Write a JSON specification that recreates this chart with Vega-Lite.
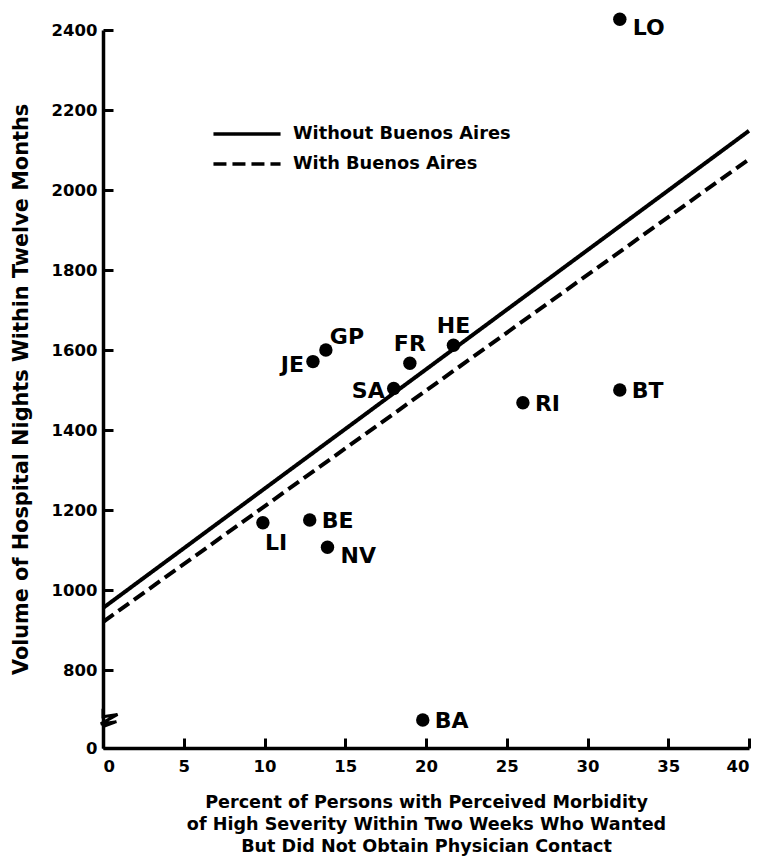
{
  "$schema": "https://vega.github.io/schema/vega-lite/v6.json",
  "width": 646,
  "height": 718,
  "autosize": {"type": "none"},
  "padding": {"left": 103, "top": 30, "right": 11, "bottom": 108},
  "background": "white",
  "config": {
    "view": {"stroke": null},
    "font": "DejaVu Sans",
    "axis": {
      "domainColor": "black",
      "domainWidth": 3.5,
      "tickColor": "black",
      "tickWidth": 3,
      "tickSize": -10,
      "grid": false,
      "labelFont": "DejaVu Sans",
      "labelFontWeight": "bold",
      "labelFontSize": 16.5,
      "labelColor": "black",
      "titleFont": "DejaVu Sans",
      "titleFontWeight": "bold",
      "titleColor": "black"
    },
    "legend": {
      "labelFont": "DejaVu Sans",
      "labelFontWeight": "bold",
      "labelFontSize": 17.8,
      "labelColor": "black",
      "labelLimit": 0
    }
  },
  "datasets": {
    "points": [
      {"code": "LO", "pct": 32, "nights": 2427},
      {"code": "JE", "pct": 13, "nights": 1571},
      {"code": "GP", "pct": 13.8, "nights": 1600},
      {"code": "FR", "pct": 19, "nights": 1567},
      {"code": "SA", "pct": 18, "nights": 1504},
      {"code": "HE", "pct": 21.7, "nights": 1612},
      {"code": "RI", "pct": 26, "nights": 1468},
      {"code": "BT", "pct": 32, "nights": 1500},
      {"code": "LI", "pct": 9.9, "nights": 1168},
      {"code": "BE", "pct": 12.8, "nights": 1175},
      {"code": "NV", "pct": 13.9, "nights": 1107},
      {"code": "BA", "pct": 19.8, "nights": 675}
    ],
    "lines": [
      {"series": "Without Buenos Aires", "pct": 0, "nights": 955},
      {"series": "Without Buenos Aires", "pct": 40, "nights": 2148},
      {"series": "With Buenos Aires", "pct": 0, "nights": 920},
      {"series": "With Buenos Aires", "pct": 40, "nights": 2077}
    ],
    "brk": [{"pct": 0, "nights": 675}]
  },
  "layer": [
    {
      "data": {"name": "lines"},
      "mark": {"type": "line", "color": "black", "strokeWidth": 4, "clip": false},
      "encoding": {
        "x": {
          "field": "pct", "type": "quantitative",
          "scale": {"domain": [0, 40], "nice": false, "zero": false},
          "axis": {
            "values": [0, 5, 10, 15, 20, 25, 30, 35, 40],
            "labelPadding": 20,
            "title": ["Percent of Persons with Perceived Morbidity", "of High Severity Within Two Weeks Who Wanted", "But Did Not Obtain Physician Contact"],
            "titleFontSize": 17.6,
            "titleLineHeight": 22,
            "titlePadding": 19
          }
        },
        "y": {
          "field": "nights", "type": "quantitative",
          "scale": {"domain": [605, 2400], "nice": false, "zero": false},
          "axis": {
            "values": [605, 800, 1000, 1200, 1400, 1600, 1800, 2000, 2200, 2400],
            "labelExpr": "datum.value < 700 ? '0' : datum.label",
            "format": "d",
            "labelPadding": 16,
            "title": "Volume of Hospital Nights Within Twelve Months",
            "titleFontSize": 20.8,
            "titlePadding": 20
          }
        },
        "detail": {"field": "series"},
        "strokeDash": {
          "field": "series", "type": "nominal",
          "scale": {"domain": ["Without Buenos Aires", "With Buenos Aires"], "range": [[1, 0], [13, 6]]},
          "legend": {
            "title": null,
            "orient": "none",
            "legendX": 131,
            "legendY": 91,
            "symbolType": "M-3,0H3",
            "symbolSize": 500,
            "symbolStrokeWidth": 3.5,
            "symbolStrokeColor": "black",
            "labelOffset": 33,
            "rowPadding": 8
          }
        }
      }
    },
    {
      "data": {"name": "points"},
      "mark": {"type": "circle", "color": "black", "opacity": 1, "size": 180, "clip": false},
      "encoding": {
        "x": {"field": "pct", "type": "quantitative"},
        "y": {"field": "nights", "type": "quantitative"}
      }
    },
    {
      "data": {"name": "points"},
      "transform": [{"filter": {"field": "code", "oneOf": ["RI", "BT", "BA", "BE"]}}],
      "mark": {"type": "text", "align": "left", "baseline": "middle", "dx": 12, "dy": 1, "fontSize": 22, "fontWeight": "bold", "font": "DejaVu Sans", "color": "black"},
      "encoding": {
        "x": {"field": "pct", "type": "quantitative"},
        "y": {"field": "nights", "type": "quantitative"},
        "text": {"field": "code"}
      }
    },
    {
      "data": {"name": "points"},
      "transform": [{"filter": {"field": "code", "oneOf": ["LO", "NV"]}}],
      "mark": {"type": "text", "align": "left", "baseline": "middle", "dx": 13, "dy": 9, "fontSize": 22, "fontWeight": "bold", "font": "DejaVu Sans", "color": "black"},
      "encoding": {
        "x": {"field": "pct", "type": "quantitative"},
        "y": {"field": "nights", "type": "quantitative"},
        "text": {"field": "code"}
      }
    },
    {
      "data": {"name": "points"},
      "transform": [{"filter": {"field": "code", "oneOf": ["LI"]}}],
      "mark": {"type": "text", "align": "left", "baseline": "middle", "dx": 2, "dy": 20, "fontSize": 22, "fontWeight": "bold", "font": "DejaVu Sans", "color": "black"},
      "encoding": {
        "x": {"field": "pct", "type": "quantitative"},
        "y": {"field": "nights", "type": "quantitative"},
        "text": {"field": "code"}
      }
    },
    {
      "data": {"name": "points"},
      "transform": [{"filter": {"field": "code", "oneOf": ["JE", "SA"]}}],
      "mark": {"type": "text", "align": "right", "baseline": "middle", "dx": -9, "dy": 3, "fontSize": 22, "fontWeight": "bold", "font": "DejaVu Sans", "color": "black"},
      "encoding": {
        "x": {"field": "pct", "type": "quantitative"},
        "y": {"field": "nights", "type": "quantitative"},
        "text": {"field": "code"}
      }
    },
    {
      "data": {"name": "points"},
      "transform": [{"filter": {"field": "code", "oneOf": ["GP"]}}],
      "mark": {"type": "text", "align": "left", "baseline": "middle", "dx": 4, "dy": -13, "fontSize": 22, "fontWeight": "bold", "font": "DejaVu Sans", "color": "black"},
      "encoding": {
        "x": {"field": "pct", "type": "quantitative"},
        "y": {"field": "nights", "type": "quantitative"},
        "text": {"field": "code"}
      }
    },
    {
      "data": {"name": "points"},
      "transform": [{"filter": {"field": "code", "oneOf": ["FR", "HE"]}}],
      "mark": {"type": "text", "align": "center", "baseline": "middle", "dx": 0, "dy": -19, "fontSize": 22, "fontWeight": "bold", "font": "DejaVu Sans", "color": "black"},
      "encoding": {
        "x": {"field": "pct", "type": "quantitative"},
        "y": {"field": "nights", "type": "quantitative"},
        "text": {"field": "code"}
      }
    },
    {
      "data": {"name": "brk"},
      "mark": {"type": "point", "shape": "M0,-1L0,-0.3L1.3,-0.5L-0.2,0.35L1.2,0.15L0,0.6", "filled": false, "stroke": "black", "strokeWidth": 3, "size": 500, "opacity": 1, "clip": false},
      "encoding": {
        "x": {"field": "pct", "type": "quantitative"},
        "y": {"field": "nights", "type": "quantitative"}
      }
    }
  ]
}
